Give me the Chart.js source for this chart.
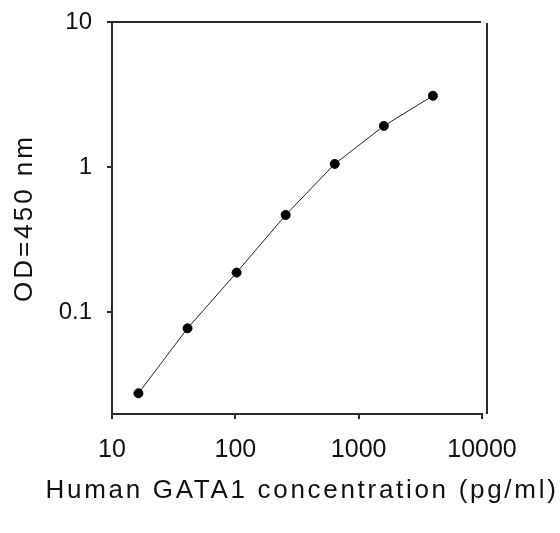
<!DOCTYPE html>
<html>
<head>
<meta charset="utf-8">
<title>GATA1 standard curve</title>
<script src="https://cdn.jsdelivr.net/npm/chart.js@4.4.1/dist/chart.umd.min.js"></script>
<style>
  body { margin: 0; background: #fff; }
  #mycanvas { display: block; }
</style>
</head>
<body>
<canvas id="mycanvas" width="560" height="533"></canvas>
<script>
// concentration (pg/ml) and OD
var concentration = [16.38, 40.96, 102.4, 256, 640, 1600, 4000];
var od = [0.0275, 0.0772, 0.187, 0.467, 1.05, 1.92, 3.10];

var xTicks = [10, 100, 1000, 10000];
var yTicks = [0.1, 1, 10];

var xTitle = 'Human GATA1 concentration (pg/ml)';
var yTitle = 'OD=450 nm';

var axisColor = '#2a2a2a';
var textColor = '#111';
var fontFamily = '"Liberation Sans", Arial, sans-serif';

var points = [];
for (var i in concentration) {
  points.push({ x: concentration[i], y: od[i] });
}

// y title is drawn in the grid layer (before datasets), tick labels after.
// x title is drawn here too because the axis title would be squeezed to the axis width.
var framePlugin = {
  id: 'frame',
  beforeDraw: function(chart) {
    chart.ctx.letterSpacing = '3px';
  },
  afterDatasetsDraw: function(chart) {
    chart.ctx.letterSpacing = '0px';
  },
  afterDraw: function(chart) {
    var ctx = chart.ctx;
    var a = chart.chartArea;
    ctx.save();
    ctx.strokeStyle = axisColor;
    ctx.lineWidth = 2;
    ctx.beginPath();
    ctx.moveTo(a.left, a.top);
    ctx.lineTo(a.right - 1, a.top);
    ctx.moveTo(a.right + 5, a.top + 1);
    ctx.lineTo(a.right + 5, a.bottom);
    ctx.stroke();

    ctx.letterSpacing = '2.7px';
    ctx.font = '26px ' + fontFamily;
    ctx.fillStyle = textColor;
    ctx.textAlign = 'center';
    ctx.textBaseline = 'middle';
    ctx.fillText(xTitle, a.left + a.width / 2 + 5, 491);
    ctx.restore();
  }
};

function noPadding(scale) {
  scale.paddingLeft = 0;
  scale.paddingRight = 0;
  scale.paddingTop = 0;
  scale.paddingBottom = 0;
}

var ctx = document.getElementById('mycanvas');

var lineGraph = new Chart(ctx, {
  type: 'line',
  data: {
    datasets: [
      {
        label: 'GATA1',
        data: points,
        borderColor: '#222',
        borderWidth: 1,
        backgroundColor: '#000',
        pointBackgroundColor: '#000',
        pointBorderColor: '#000',
        pointRadius: 4.5,
        tension: 0
      }
    ]
  },
  options: {
    responsive: false,
    animation: false,
    layout: { padding: { left: 0, right: 78, top: 22, bottom: 0 } },
    plugins: {
      legend: { display: false },
      tooltip: { enabled: false }
    },
    scales: {
      x: {
        type: 'logarithmic',
        min: 10,
        max: 10000,
        afterBuildTicks: function(scale) {
          scale.ticks = xTicks.map(function(v) { return { value: v }; });
        },
        afterFit: function(scale) {
          scale.height = 119;
          noPadding(scale);
        },
        grid: {
          drawOnChartArea: false,
          drawTicks: true,
          tickLength: 5,
          color: axisColor,
          lineWidth: 2
        },
        border: { display: true, color: axisColor, width: 2 },
        ticks: {
          z: 1,
          autoSkip: false,
          maxRotation: 0,
          padding: 16,
          color: textColor,
          font: { family: fontFamily, size: 25 },
          callback: function(v) { return String(v); }
        }
      },
      y: {
        type: 'logarithmic',
        min: 0.0198,
        max: 10,
        afterBuildTicks: function(scale) {
          scale.ticks = yTicks.map(function(v) { return { value: v }; });
        },
        afterFit: function(scale) {
          scale.width = 112;
          noPadding(scale);
        },
        grid: {
          drawOnChartArea: false,
          drawTicks: true,
          tickLength: 5,
          color: axisColor,
          lineWidth: 2
        },
        border: { display: true, color: axisColor, width: 2 },
        ticks: {
          z: 1,
          autoSkip: false,
          padding: 15,
          color: textColor,
          font: { family: fontFamily, size: 24 },
          callback: function(v) { return String(v); }
        },
        title: {
          display: true,
          text: yTitle,
          color: textColor,
          padding: { top: 9, bottom: 0 },
          font: { family: fontFamily, size: 26 }
        }
      }
    }
  },
  plugins: [framePlugin]
});
</script>
</body>
</html>
